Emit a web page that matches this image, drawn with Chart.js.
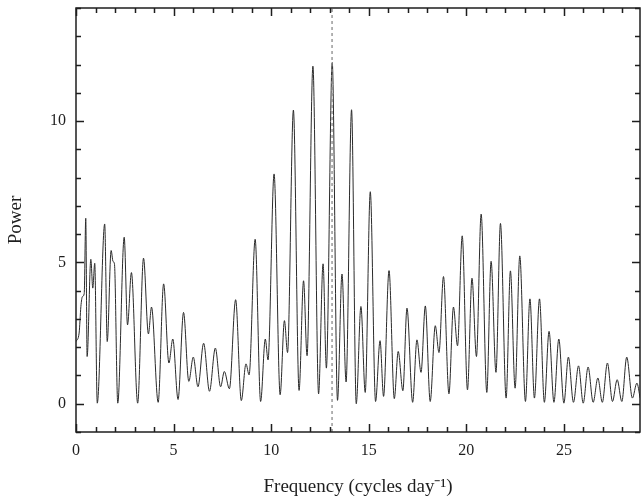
<!DOCTYPE html>
<html>
<head>
<meta charset="utf-8">
<script src="https://cdn.jsdelivr.net/npm/chart.js@4"></script>
<style>
  body { margin: 0; background: #fff; }
  #wrap { width: 641px; height: 500px; }
</style>
</head>
<body>
<div id="wrap"><canvas id="myChart"></canvas></div>
<script>
// periodogram: peaks and troughs
const freqs = [
  0, 0.16, 0.25, 0.33, 0.42, 0.50, 0.57, 0.76, 0.86, 0.96,
  1.09, 1.47, 1.60, 1.80, 1.90, 1.97, 2.14, 2.47, 2.64, 2.84,
  3.16, 3.46, 3.71, 3.87, 4.21, 4.49, 4.76, 4.96, 5.23, 5.51,
  5.78, 6.01, 6.25, 6.54, 6.84, 7.14, 7.41, 7.60, 7.86, 8.18,
  8.47, 8.71, 8.87, 9.18, 9.46, 9.70, 9.84, 10.15, 10.46, 10.68,
  10.84, 11.14, 11.43, 11.66, 11.84, 12.14, 12.43, 12.66, 12.83, 13.13,
  13.40, 13.63, 13.84, 14.12, 14.36, 14.60, 14.82, 15.08, 15.35, 15.58,
  15.76, 16.04, 16.31, 16.51, 16.75, 16.96, 17.25, 17.47, 17.68, 17.90,
  18.15, 18.41, 18.60, 18.83, 19.11, 19.34, 19.55, 19.79, 20.06, 20.29,
  20.52, 20.76, 21.05, 21.27, 21.52, 21.75, 22.04, 22.26, 22.50, 22.74,
  23.03, 23.26, 23.49, 23.75, 24.00, 24.24, 24.49, 24.74, 25.00, 25.23,
  25.49, 25.75, 25.99, 26.24, 26.50, 26.74, 26.97, 27.23, 27.49, 27.73,
  27.97, 28.22, 28.51, 28.74, 28.91
];
const power = [
  2.20, 2.50, 3.44, 3.79, 3.89, 6.56, 1.67, 5.11, 4.09, 4.97,
  0.02, 6.36, 2.20, 5.42, 5.03, 4.95, 0.02, 5.89, 2.79, 4.64,
  0.02, 5.15, 2.47, 3.42, 0.05, 4.24, 1.44, 2.29, 0.15, 3.23,
  0.79, 1.65, 0.60, 2.14, 0.44, 1.97, 0.60, 1.14, 0.53, 3.68,
  0.11, 1.41, 1.02, 5.82, 0.08, 2.29, 1.55, 8.13, 0.32, 2.94,
  1.81, 10.39, 0.47, 4.35, 1.70, 11.94, 0.35, 4.95, 1.26, 12.07,
  0.12, 4.59, 0.77, 10.40, 0.00, 3.44, 0.40, 7.50, 0.08, 2.23,
  0.26, 4.71, 0.18, 1.85, 0.46, 3.38, 0.05, 2.26, 1.11, 3.46,
  0.08, 2.76, 1.81, 4.50, 0.35, 3.42, 2.05, 5.94, 0.49, 4.44,
  1.67, 6.71, 0.40, 5.04, 1.11, 6.38, 0.20, 4.70, 0.55, 5.23,
  0.08, 3.71, 0.20, 3.71, 0.05, 2.56, 0.05, 2.29, 0.02, 1.65,
  0.05, 1.34, 0.02, 1.30, 0.05, 0.91, 0.05, 1.44, 0.08, 0.85,
  0.08, 1.65, 0.20, 0.73, 0.20
];
const markerFreq = 13.12;      // dashed line
const xRange = [0, 28.9];
const yRange = [-1, 14];
const xLabels = [0, 5, 10, 15, 20, 25];
const yLabels = [0, 5, 10];

const serif = "'Liberation Serif', 'Times New Roman', serif";
const ink = '#1e1e1e';

// frame with inward ticks on all four sides
const frameTicks = {
  id: 'frameTicks',
  afterDatasetsDraw(chart) {
    const { ctx, chartArea: a, scales: { x, y } } = chart;
    ctx.save();
    ctx.strokeStyle = ink;
    ctx.lineWidth = 1.5;
    ctx.strokeRect(a.left, a.top, a.right - a.left, a.bottom - a.top);
    ctx.beginPath();
    for (let v = Math.ceil(x.min); v <= x.max; v++) {
      const px = Math.round(x.getPixelForValue(v)) + 0.5;
      const len = v % 5 === 0 ? 8 : 5;
      ctx.moveTo(px, a.bottom); ctx.lineTo(px, a.bottom - len);
      ctx.moveTo(px, a.top); ctx.lineTo(px, a.top + len);
    }
    for (let v = Math.ceil(y.min); v <= y.max; v++) {
      const py = Math.round(y.getPixelForValue(v)) + 0.5;
      const len = v % 5 === 0 ? 8 : 5;
      ctx.moveTo(a.left, py); ctx.lineTo(a.left + len, py);
      ctx.moveTo(a.right, py); ctx.lineTo(a.right - len, py);
    }
    ctx.stroke();
    ctx.restore();
  }
};

const ctx = document.getElementById('myChart').getContext('2d');
new Chart(ctx, {
  type: 'line',
  data: {
    datasets: [
      {
        data: [{ x: markerFreq, y: yRange[0] }, { x: markerFreq, y: yRange[1] }],
        borderColor: '#8a8a8a',
        borderWidth: 1.3,
        borderDash: [3, 3],
        pointRadius: 0
      },
      {
        data: freqs.map((f, i) => ({ x: f, y: power[i] })),
        borderColor: '#2a2a2a',
        borderWidth: 1,
        pointRadius: 0,
        cubicInterpolationMode: 'monotone'
      }
    ]
  },
  options: {
    responsive: true,
    maintainAspectRatio: false,
    animation: false,
    layout: { padding: { top: 8, right: 1, left: 0, bottom: 0 } },
    plugins: { legend: { display: false }, tooltip: { enabled: false } },
    scales: {
      x: {
        type: 'linear',
        min: xRange[0],
        max: xRange[1],
        afterFit: s => { s.height = 68; s.paddingLeft = 0; s.paddingRight = 0; },
        grid: { display: false, drawTicks: false },
        border: { display: false },
        ticks: {
          stepSize: 1,
          autoSkip: false,
          maxRotation: 0,
          padding: 9,
          color: ink,
          font: { family: serif, size: 16 },
          callback: v => xLabels.includes(v) ? v : ''
        },
        title: {
          display: true,
          text: 'Frequency (cycles day\u207B\u00B9)',
          color: ink,
          font: { family: serif, size: 19 },
          padding: { top: 0, bottom: 2 }
        }
      },
      y: {
        min: yRange[0],
        max: yRange[1],
        afterFit: s => { s.width = 76; s.paddingTop = 0; s.paddingBottom = 0; },
        grid: { display: false, drawTicks: false },
        border: { display: false },
        ticks: {
          stepSize: 1,
          autoSkip: false,
          padding: 10,
          color: ink,
          font: { family: serif, size: 16 },
          callback: v => yLabels.includes(v) ? v : ''
        },
        title: {
          display: true,
          text: 'Power',
          color: ink,
          font: { family: serif, size: 19 },
          padding: { top: 5, bottom: 0 }
        }
      }
    }
  },
  plugins: [frameTicks]
});
</script>
</body>
</html>
